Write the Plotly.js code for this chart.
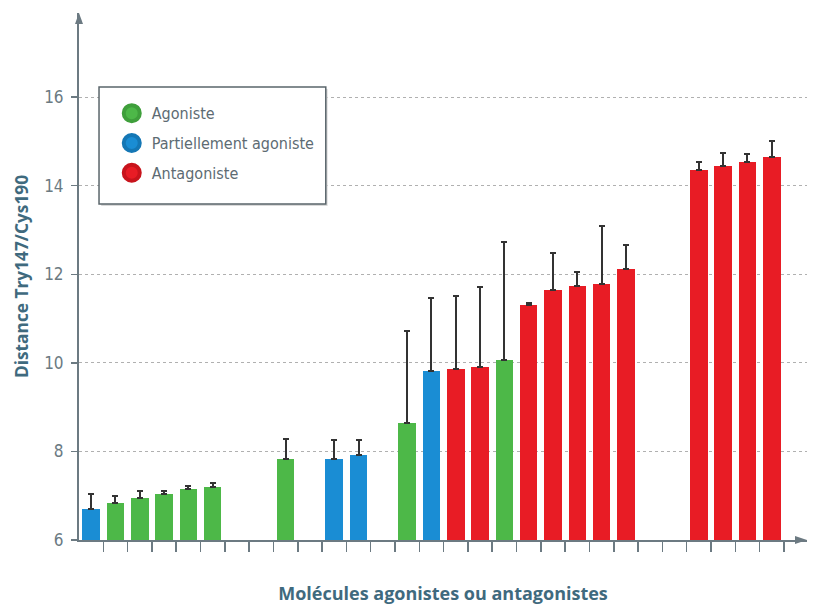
<!DOCTYPE html>
<html>
<head>
<meta charset="utf-8">
<script src="https://cdn.plot.ly/plotly-3.0.1.min.js"></script>
<style>html,body{margin:0;padding:0;background:#fff;}#chart{width:814px;height:607px;}</style>
</head>
<body>
<div id="chart"></div>
<script>
// Data (slot = position of the molecule along the x axis)
const seriesNames = ["Agoniste", "Partiellement agoniste", "Antagoniste"];
const slotCount = 29;

const agonisteSlots = [2, 3, 4, 5, 6, 9, 14, 18];
const agonisteValues = [6.84, 6.94, 7.04, 7.15, 7.19, 7.84, 8.65, 10.06];
const agonisteErrors = [0.16, 0.17, 0.07, 0.07, 0.10, 0.45, 2.07, 2.67];

const partielSlots = [1, 11, 12, 15];
const partielValues = [6.69, 7.82, 7.91, 9.82];
const partielErrors = [0.36, 0.43, 0.35, 1.64];

const antagonisteSlots = [16, 17, 19, 20, 21, 22, 23, 26, 27, 28, 29];
const antagonisteValues = [9.87, 9.91, 11.30, 11.64, 11.73, 11.77, 12.12, 14.35, 14.44, 14.54, 14.65];
const antagonisteErrors = [1.64, 1.81, 0.06, 0.83, 0.32, 1.32, 0.54, 0.18, 0.29, 0.17, 0.35];

const yTickValues = [6, 8, 10, 12, 14, 16];
const xTitle = "Molécules agonistes ou antagonistes";
const yTitle = "Distance Try147/Cys190";

// tick marks between slots
const xTickValues = [];
for (let i = 1; i <= slotCount; i++) xTickValues.push(i + 0.5);

const colors = ["#4db848", "#1a8dd4", "#e81c25"];
const lineColors = ["#3f9f3b", "#1477b5", "#c8141c"];
const axisColor = "#6c7a82";
const titleColor = "#3f6a7e";

function barTrace(slots, vals, errs, i) {
  return {
    type: "bar", x: slots, y: vals, width: 0.72,
    marker: {color: colors[i], line: {width: 0}},
    error_y: {type: "data", symmetric: false, array: errs, arrayminus: errs.map(() => 0),
              color: "#333333", thickness: 2, width: 3},
    showlegend: false, hoverinfo: "skip"
  };
}
function legendTrace(i) {
  return {
    type: "scatter", mode: "markers", x: [null], y: [null], name: seriesNames[i],
    legendgroup: "g" + i,
    marker: {color: colors[i], size: 16, line: {color: lineColors[i], width: 4}}
  };
}

const data = [
  barTrace(agonisteSlots, agonisteValues, agonisteErrors, 0),
  barTrace(partielSlots, partielValues, partielErrors, 1),
  barTrace(antagonisteSlots, antagonisteValues, antagonisteErrors, 2),
  legendTrace(0), legendTrace(1), legendTrace(2)
];

const tickFont = {family: "Liberation Sans Narrow, DejaVu Sans Condensed, Open Sans, sans-serif", size: 17, color: "#6b7a82"};

const layout = {
  width: 814, height: 607,
  margin: {l: 79, r: 7, t: 13, b: 67},
  paper_bgcolor: "#ffffff", plot_bgcolor: "#ffffff",
  bargap: 0,
  xaxis: {
    range: [0.5, 30.45], tickmode: "array", tickvals: xTickValues,
    showticklabels: false, ticks: "outside", ticklen: 10, tickwidth: 1.5, tickcolor: axisColor,
    showline: true, linecolor: axisColor, linewidth: 2, showgrid: false, zeroline: false,
    title: {text: "<b>" + xTitle + "</b>", font: {family: "Open Sans, sans-serif", size: 18, color: titleColor}, standoff: 36}
  },
  yaxis: {
    range: [6, 17.9], tickmode: "array", tickvals: yTickValues,
    ticks: "outside", ticklen: 6, tickwidth: 1.5, tickcolor: axisColor,
    showline: true, linecolor: axisColor, linewidth: 2, zeroline: false,
    showgrid: true, gridcolor: "#b0b0b0", griddash: "dot", gridwidth: 1,
    tickfont: tickFont, ticklabelstandoff: 4,
    title: {text: "<b>" + yTitle + "</b>", font: {family: "Open Sans, sans-serif", size: 17.3, color: titleColor}, standoff: 11}
  },
  legend: {
    x: 0.045, y: 0.842, xanchor: "left", yanchor: "top",
    bgcolor: "rgba(0,0,0,0)", borderwidth: 0, tracegroupgap: 6,
    font: {family: "Liberation Sans Narrow, DejaVu Sans Condensed, Open Sans, sans-serif", size: 16, color: "#5d6b73"}
  },
  shapes: [
    {type: "rect", xref: "paper", yref: "paper", x0: 0.0305, x1: 0.3415, y0: 0.6336, y1: 0.8556,
     line: {width: 0}, fillcolor: "#d9d9d9", layer: "above"},
    {type: "rect", xref: "paper", yref: "paper", x0: 0.0275, x1: 0.339, y0: 0.6376, y1: 0.8596,
     line: {color: "#5a656b", width: 1.5}, fillcolor: "#ffffff", layer: "above"},
    {type: "path", xref: "paper", yref: "paper", xsizemode: "pixel", ysizemode: "pixel",
     xanchor: 0, yanchor: 1, path: "M 0 0 L -4 -11 L 4 -11 Z", fillcolor: axisColor, line: {width: 0}},
    {type: "path", xref: "paper", yref: "paper", xsizemode: "pixel", ysizemode: "pixel",
     xanchor: 1, yanchor: 0, path: "M 0 0 L -12 4 L -12 -4 Z", fillcolor: axisColor, line: {width: 0}}
  ]
};

Plotly.newPlot("chart", data, layout, {displayModeBar: false, staticPlot: true});
</script>
</body>
</html>
